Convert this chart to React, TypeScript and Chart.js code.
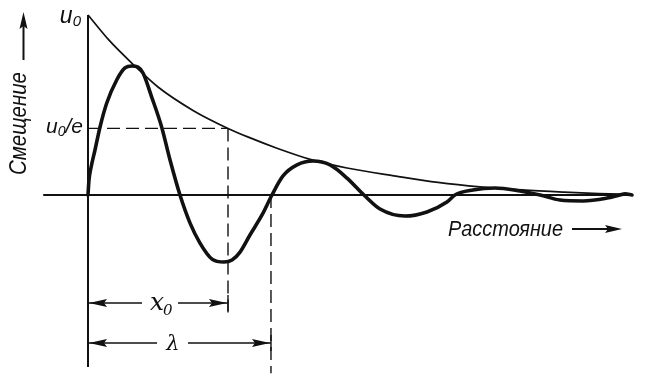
import React, { useEffect, useRef } from "react";
import { Chart, registerables } from "chart.js";

Chart.register(...registerables);

// Distance is measured in units of the attenuation length x0,
// displacement in units of the initial amplitude u0.

// Damped wave (thick curve)
const waveX = [
  0, 0.007, 0.021, 0.05, 0.086, 0.134, 0.205, 0.264, 0.312, 0.357, 0.393, 0.455,
  0.526, 0.586, 0.657, 0.729, 0.8, 0.886, 0.971, 1.029, 1.086, 1.157, 1.243,
  1.314, 1.393, 1.493, 1.607, 1.729, 1.85, 1.971, 2.086, 2.264, 2.421, 2.564,
  2.621, 2.75, 2.907, 3.086, 3.229, 3.371, 3.536, 3.707, 3.8, 3.836, 3.886,
];
const waveY = [
  0, 0.083, 0.15, 0.25, 0.378, 0.511, 0.639, 0.706, 0.717, 0.711, 0.678, 0.544,
  0.378, 0.194, 0, -0.156, -0.267, -0.356, -0.372, -0.361, -0.317, -0.222,
  -0.111, 0, 0.106, 0.167, 0.189, 0.167, 0.094, 0, -0.078, -0.117, -0.094,
  -0.039, 0, 0.028, 0.039, 0.022, 0, -0.028, -0.033, -0.017, 0, 0.006, 0,
];

// Exponential envelope (thin curve)
const envX = [
  0, 0.15, 0.33, 0.5, 0.75, 1.0, 1.15, 1.35, 1.6, 1.85, 2.2, 2.5, 2.8, 3.1, 3.4,
  3.65, 3.88,
];
const envY = [
  1.0, 0.86, 0.72, 0.6, 0.47, 0.37, 0.32, 0.26, 0.195, 0.15, 0.105, 0.07, 0.045,
  0.028, 0.016, 0.008, 0.004,
];

// Marked quantities
const U0 = 1;
const U0_OVER_E = 0.37;
const X0 = 1.0;
const LAMBDA = 1.307;

// Labels
const Y_TITLE = "Смещение";
const X_TITLE = "Расстояние";

// View window and guide extents (data units)
const X_MIN = -0.6286;
const X_MAX = 3.993;
const Y_MIN = -0.9944;
const Y_MAX = 1.0833;
const BASE_FROM = -0.32;
const BASE_TO = 3.87;
const AXIS_BOTTOM = -0.955;
const X0_GUIDE_END = -0.683;
const LAMBDA_GUIDE_END = -0.99;
const X0_ARROW_Y = -0.6;
const LAMBDA_ARROW_Y = -0.822;

const INK = "#111111";
const SANS = '"Liberation Sans", Arial, sans-serif';
const SERIF = '"DejaVu Serif", "Liberation Serif", serif';

type Ctx = CanvasRenderingContext2D;

function segment(ctx: Ctx, x1: number, y1: number, x2: number, y2: number) {
  ctx.beginPath();
  ctx.moveTo(x1, y1);
  ctx.lineTo(x2, y2);
  ctx.stroke();
}

function arrowHead(ctx: Ctx, tx: number, ty: number, dx: number, dy: number, len: number, half: number) {
  const bx = tx - dx * len;
  const by = ty - dy * len;
  const nx = -dy;
  const ny = dx;
  ctx.beginPath();
  ctx.moveTo(tx, ty);
  ctx.lineTo(bx + nx * half, by + ny * half);
  ctx.lineTo(bx + dx * 3, by + dy * 3);
  ctx.lineTo(bx - nx * half, by - ny * half);
  ctx.closePath();
  ctx.fill();
}

// Draws text starting at (x, y) squeezed/stretched to the given width.
function fittedText(ctx: Ctx, text: string, x: number, y: number, width: number, font: string) {
  ctx.font = font;
  const w = ctx.measureText(text).width;
  ctx.save();
  ctx.translate(x, y);
  ctx.scale(width / w, 1);
  ctx.textAlign = "left";
  ctx.textBaseline = "alphabetic";
  ctx.fillText(text, 0, 0);
  ctx.restore();
}

// Symbol with a subscript and optional trailing text, right-aligned at x.
function subscripted(
  ctx: Ctx,
  main: string,
  sub: string,
  rest: string,
  rightX: number,
  y: number,
  mainFont: string,
  subFont: string,
  subDrop: number
) {
  ctx.textBaseline = "alphabetic";
  ctx.textAlign = "left";
  ctx.font = mainFont;
  const wm = ctx.measureText(main).width;
  const wr = rest ? ctx.measureText(rest).width : 0;
  ctx.font = subFont;
  const ws = ctx.measureText(sub).width;
  let x = rightX - (wm + ws + wr);
  ctx.font = mainFont;
  ctx.fillText(main, x, y);
  x += wm;
  ctx.font = subFont;
  ctx.fillText(sub, x, y + subDrop);
  x += ws;
  if (rest) {
    ctx.font = mainFont;
    ctx.fillText(rest, x, y);
  }
}

// Double-headed dimension arrow with a gap for its label.
function dimension(ctx: Ctx, x1: number, x2: number, y: number, gapFrom: number, gapTo: number) {
  ctx.lineWidth = 1.6;
  segment(ctx, x1, y, gapFrom, y);
  segment(ctx, gapTo, y, x2, y);
  arrowHead(ctx, x1 + 1, y, -1, 0, 18, 4);
  arrowHead(ctx, x2 - 1, y, 1, 0, 18, 4);
  ctx.lineWidth = 1.4;
  segment(ctx, x2, y - 8, x2, y + 8);
}

const overlay = {
  id: "overlay",
  beforeDatasetsDraw(chart: any) {
    const { ctx, scales } = chart;
    const px = (v: number) => scales.x.getPixelForValue(v);
    const py = (v: number) => scales.y.getPixelForValue(v);
    ctx.save();
    ctx.strokeStyle = INK;
    ctx.lineCap = "butt";

    // axes
    ctx.lineWidth = 2;
    segment(ctx, px(BASE_FROM), py(0), px(BASE_TO), py(0));
    segment(ctx, px(0), py(U0), px(0), py(AXIS_BOTTOM));

    // dashed guides
    ctx.lineWidth = 1.4;
    ctx.setLineDash([13, 6]);
    segment(ctx, px(0), py(U0_OVER_E), px(X0), py(U0_OVER_E));
    segment(ctx, px(X0), py(U0_OVER_E), px(X0), py(X0_GUIDE_END));
    segment(ctx, px(LAMBDA), py(0), px(LAMBDA), py(LAMBDA_GUIDE_END));
    ctx.setLineDash([]);
    ctx.restore();
  },
  afterDatasetsDraw(chart: any) {
    const { ctx, scales } = chart;
    const px = (v: number) => scales.x.getPixelForValue(v);
    const py = (v: number) => scales.y.getPixelForValue(v);
    const ax = px(0);
    const base = py(0);
    ctx.save();
    ctx.fillStyle = INK;
    ctx.strokeStyle = INK;

    // u0 and u0/e marks on the displacement axis
    subscripted(ctx, "u", "0", "", ax - 7, py(U0) + 8, `italic 23px ${SANS}`, `italic 15px ${SANS}`, 3);
    subscripted(ctx, "u", "0", "/e", ax - 5, py(U0_OVER_E) + 5, `italic 21px ${SANS}`, `italic 14px ${SANS}`, 3);

    // vertical axis title with arrow
    ctx.save();
    ctx.translate(26, base - 20);
    ctx.rotate(-Math.PI / 2);
    fittedText(ctx, Y_TITLE, 0, 0, 103, `italic 23px ${SANS}`);
    ctx.restore();
    ctx.lineWidth = 2;
    segment(ctx, 23.5, base - 135, 23.5, base - 170);
    arrowHead(ctx, 23.5, base - 183, 0, -1, 17, 4);

    // horizontal axis title with arrow
    fittedText(ctx, X_TITLE, 448, base + 41, 115, `italic 22px ${SANS}`);
    ctx.lineWidth = 2;
    segment(ctx, 572, base + 34, 610, base + 34);
    arrowHead(ctx, 622, base + 34, 1, 0, 17, 4);

    // x0 and lambda dimension lines
    const yx0 = py(X0_ARROW_Y);
    const ylam = py(LAMBDA_ARROW_Y);
    dimension(ctx, ax, px(X0), yx0, ax + 54, ax + 90);
    dimension(ctx, ax, px(LAMBDA), ylam, ax + 69, ax + 100);

    ctx.textBaseline = "alphabetic";
    ctx.textAlign = "left";
    ctx.font = `italic 25px ${SERIF}`;
    const xw = ctx.measureText("x").width;
    const xStart = ax + 62;
    ctx.fillText("x", xStart, yx0 + 7);
    ctx.font = `italic 15px ${SERIF}`;
    ctx.fillText("0", xStart + xw - 1, yx0 + 12);

    ctx.font = `italic 21px ${SERIF}`;
    ctx.textAlign = "center";
    ctx.fillText("λ", ax + 85, ylam + 7);
    ctx.restore();
  },
};

export default function App() {
  const canvasRef = useRef<HTMLCanvasElement | null>(null);

  useEffect(() => {
    const canvas = canvasRef.current;
    if (!canvas) return;
    const wave = waveX.map((x, i) => ({ x, y: waveY[i] }));
    const envelope = envX.map((x, i) => ({ x, y: envY[i] }));
    const chart = new Chart(canvas, {
      type: "line",
      data: {
        datasets: [
          {
            data: wave,
            borderColor: INK,
            borderWidth: 3.6,
            pointRadius: 0,
            cubicInterpolationMode: "monotone",
            borderJoinStyle: "round",
            borderCapStyle: "round",
            fill: false,
          },
          {
            data: envelope,
            borderColor: INK,
            borderWidth: 1.7,
            pointRadius: 0,
            cubicInterpolationMode: "monotone",
            fill: false,
          },
        ],
      },
      options: {
        responsive: false,
        animation: false,
        devicePixelRatio: 1,
        layout: { padding: 0 },
        plugins: { legend: { display: false }, tooltip: { enabled: false } },
        events: [],
        scales: {
          x: { type: "linear", min: X_MIN, max: X_MAX, display: false },
          y: { type: "linear", min: Y_MIN, max: Y_MAX, display: false },
        },
      },
      plugins: [overlay],
    } as any);
    return () => chart.destroy();
  }, []);

  return (
    <div style={{ position: "fixed", left: 0, top: 0, width: 647, height: 374, background: "#fff" }}>
      <canvas ref={canvasRef} width={647} height={374} style={{ display: "block" }} />
    </div>
  );
}
